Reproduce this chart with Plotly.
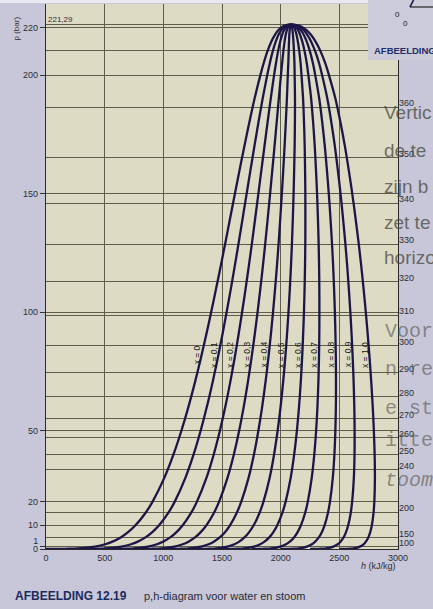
import numpy as np
import plotly.graph_objects as go

# Saturation data for water/steam: pressure (bar), enthalpy of saturated liquid
# and saturated vapour (kJ/kg), up to the critical point at 221,29 bar.
P_BAR = [0.00611, 0.01, 0.02, 0.05, 0.1, 0.2, 0.5, 1, 2, 3, 5, 7, 10, 15, 20,
         30, 40, 50, 60, 70, 80, 90, 100, 110, 120, 130, 140, 150, 160, 170,
         180, 190, 200, 205, 210, 214, 217, 219, 220.3, 221.0, 221.2, 221.29]
H_LIQ = [0.0, 29.3, 73.4, 137.7, 191.8, 251.4, 340.5, 417.4, 504.7, 561.4,
         640.1, 697.0, 762.5, 844.6, 908.5, 1008.3, 1087.4, 1154.5, 1213.9,
         1267.7, 1317.3, 1363.7, 1407.9, 1450.3, 1491.5, 1531.5, 1570.8,
         1610.2, 1650.0, 1690.7, 1732.8, 1777.2, 1827.1, 1855.0, 1887.0,
         1919.0, 1951.0, 1981.0, 2011.0, 2040.0, 2057.0, 2086.0]
H_VAP = [2501.0, 2513.7, 2532.9, 2560.7, 2583.9, 2608.9, 2645.2, 2674.9,
         2706.2, 2724.9, 2748.1, 2762.8, 2777.1, 2791.0, 2798.3, 2803.2,
         2800.8, 2794.2, 2784.6, 2772.6, 2758.7, 2742.9, 2725.5, 2706.3,
         2685.4, 2662.4, 2637.1, 2610.0, 2580.0, 2547.4, 2509.8, 2466.9,
         2411.4, 2380.0, 2340.0, 2299.0, 2258.0, 2220.0, 2182.0, 2145.0,
         2123.0, 2086.0]

# Steam quality lines
QUALITY = [0.0, 0.1, 0.2, 0.3, 0.4, 0.5, 0.6, 0.7, 0.8, 0.9, 1.0]
QUALITY_LABELS = ["x = 0", "x = 0,1", "x = 0,2", "x = 0,3", "x = 0,4", "x = 0,5",
                  "x = 0,6", "x = 0,7", "x = 0,8", "x = 0,9", "x = 1,0"]
LABEL_P = 82

# Axes
H_TICKS = [0, 500, 1000, 1500, 2000, 2500, 3000]
P_TICKS = [0, 10, 20, 50, 100, 150, 200, 220]
P_CRIT = 221.29
# Saturation temperatures (deg C) and matching saturation pressures (bar)
T_SAT = [100, 150, 200, 240, 250, 260, 270, 280, 290, 300, 310, 320, 330,
         340, 350, 360, 370]
P_SAT = [1.014, 4.76, 15.55, 33.47, 39.76, 46.92, 55.03, 64.17, 74.42, 85.88,
         98.65, 112.9, 128.6, 146.0, 165.2, 186.5, 210.3]

PAGE = "#c7c7d9"
PLOT_BG = "#dedbc4"
GRID = "#5e5d4c"
CURVE = "#1c1648"
TEXT = "#2e2e33"
FONT = "Liberation Sans"

# layout geometry (pixels) used to place page decorations
L, R, T, B = 46, 35, 4, 60
W, H = 433, 609
PW, PH = W - L - R, H - T - B


def px_x(px):
    return (px - L) / PW


def px_y(py):
    return (H - B - py) / PH


p_arr = np.array(P_BAR)
hf_arr = np.array(H_LIQ)
hg_arr = np.array(H_VAP)

fig = go.Figure()

for q in QUALITY:
    h_line = hf_arr + q * (hg_arr - hf_arr)
    fig.add_trace(go.Scatter(
        x=h_line, y=p_arr, mode="lines",
        line=dict(color=CURVE, width=2.3, shape="spline", smoothing=0.8),
        hoverinfo="skip", showlegend=False))

# carriers for the extra y axes
fig.add_trace(go.Scatter(x=[0], y=[0], yaxis="y2", mode="markers",
                         marker=dict(opacity=0), hoverinfo="skip", showlegend=False))
fig.add_trace(go.Scatter(x=[0], y=[0], yaxis="y3", mode="markers",
                         marker=dict(opacity=0), hoverinfo="skip", showlegend=False))

annotations = []

# quality labels along the curves
for q, lab in zip(QUALITY, QUALITY_LABELS):
    h_line = hf_arr + q * (hg_arr - hf_arr)
    h_lab = float(np.interp(LABEL_P, p_arr, h_line))
    annotations.append(dict(x=h_lab, y=LABEL_P, xref="x", yref="y", text=lab,
                            textangle=-90, showarrow=False, xshift=-5,
                            font=dict(family=FONT, size=8.5, color="#151515")))

# critical pressure
annotations.append(dict(x=0, y=P_CRIT, xref="x", yref="y", text="221,29",
                        xanchor="left", yanchor="bottom", showarrow=False,
                        xshift=0, yshift=-1,
                        font=dict(family=FONT, size=8, color=TEXT)))

# axis titles
annotations.append(dict(x=px_x(10), y=px_y(15), xref="paper", yref="paper",
                        text="p (bar)", textangle=-90, showarrow=False,
                        font=dict(family=FONT, size=8, color=TEXT)))
annotations.append(dict(x=1.0, y=px_y(566), xref="paper", yref="paper",
                        text="<i>h</i> (kJ/kg)", xanchor="right", yanchor="middle",
                        showarrow=False,
                        font=dict(family=FONT, size=9, color=TEXT)))

# caption
annotations.append(dict(x=px_x(13), y=px_y(596), xref="paper", yref="paper",
                        text="<b>AFBEELDING 12.19</b>", xanchor="left",
                        yanchor="middle", showarrow=False,
                        font=dict(family=FONT, size=12, color="#1d2a5c")))
annotations.append(dict(x=px_x(142), y=px_y(596), xref="paper", yref="paper",
                        text="p,h-diagram voor water en stoom", xanchor="left",
                        yanchor="middle", showarrow=False,
                        font=dict(family=FONT, size=11, color="#2a2a33")))

# text from the facing page showing through on the right
side_sans = [("Vertic", 112), ("de te", 150), ("zijn b", 186),
             ("zet te", 222), ("horizo", 257)]
for txt, yc in side_sans:
    annotations.append(dict(x=px_x(382), y=px_y(yc), xref="paper", yref="paper",
                            text=txt, xanchor="left", yanchor="middle",
                            showarrow=False,
                            font=dict(family=FONT, size=19,
                                      color="rgba(70,70,60,0.75)")))
side_mono = [("Voor", 331), ("n re", 370), ("e st", 408), ("itte", 440),
             ("<i>toom</i>", 480)]
for txt, yc in side_mono:
    annotations.append(dict(x=px_x(383), y=px_y(yc), xref="paper", yref="paper",
                            text=txt, xanchor="left", yanchor="middle",
                            showarrow=False,
                            font=dict(family="Liberation Mono", size=20,
                                      color="rgba(90,90,85,0.65)")))

# small inset of the neighbouring figure in the top-right corner
annotations.append(dict(x=px_x(372), y=px_y(51), xref="paper", yref="paper",
                        text="<b>AFBEELDING</b>", xanchor="left", yanchor="middle",
                        showarrow=False,
                        font=dict(family=FONT, size=9.5, color="#1f2d6b")))
annotations.append(dict(x=px_x(402), y=px_y(8), xref="paper", yref="paper",
                        text="0", showarrow=False,
                        font=dict(family=FONT, size=8, color="#222")))
annotations.append(dict(x=px_x(410), y=px_y(17), xref="paper", yref="paper",
                        text="0", showarrow=False,
                        font=dict(family=FONT, size=8, color="#222")))

shapes = [
    # thin light strip along the top edge of the page
    dict(type="rect", xref="paper", yref="paper", x0=-0.2, x1=1.2,
         y0=px_y(3), y1=px_y(-2), fillcolor="#e9e9f1", line_width=0,
         layer="above"),
    # inset box
    dict(type="rect", xref="paper", yref="paper", x0=px_x(368), x1=px_x(440),
         y0=px_y(60), y1=px_y(-2), fillcolor="#cbcbda", line_width=0,
         layer="above"),
    dict(type="line", xref="paper", yref="paper", x0=px_x(410), x1=px_x(440),
         y0=px_y(7), y1=px_y(7), line=dict(color="#222", width=1.2),
         layer="above"),
    dict(type="line", xref="paper", yref="paper", x0=px_x(410), x1=px_x(414),
         y0=px_y(7), y1=px_y(-1), line=dict(color="#1c1648", width=1.6),
         layer="above"),
]

axis_font = dict(family=FONT, size=9, color=TEXT)

fig.update_layout(
    width=W, height=H, autosize=False,
    margin=dict(l=L, r=R, t=T, b=B, pad=0),
    paper_bgcolor=PAGE, plot_bgcolor=PLOT_BG,
    showlegend=False,
    xaxis=dict(range=[0, 3000], tickvals=H_TICKS,
               ticktext=[str(v) for v in H_TICKS],
               showgrid=True, gridcolor=GRID, gridwidth=1,
               showline=True, linecolor="#2a2a2a", linewidth=1.3,
               ticks="", zeroline=False, tickfont=axis_font, fixedrange=True),
    yaxis=dict(range=[0, 230], tickvals=P_TICKS,
               ticktext=[str(v) for v in P_TICKS],
               ticks="outside", ticklen=5, tickcolor="#333", tickwidth=1,
               showgrid=True, gridcolor=GRID, gridwidth=1,
               showline=True, mirror=True, linecolor="#2a2a2a", linewidth=1.3,
               zeroline=False, tickfont=axis_font, fixedrange=True),
    yaxis2=dict(range=[0, 230], overlaying="y", side="right",
                tickvals=P_SAT + [P_CRIT],
                ticktext=[str(t) for t in T_SAT] + [""],
                ticks="", showgrid=True, gridcolor=GRID, gridwidth=1,
                showline=False, zeroline=False, ticklabelshift=-4,
                tickfont=axis_font, fixedrange=True),
    yaxis3=dict(range=[0, 230], overlaying="y", side="left",
                tickvals=[1], ticktext=["1"],
                ticks="outside", ticklen=5, tickcolor="#333",
                showgrid=True, gridcolor=GRID, gridwidth=1,
                showline=False, zeroline=False, ticklabelshift=-6,
                tickfont=axis_font, fixedrange=True),
    annotations=annotations,
    shapes=shapes,
)

fig.write_html("out.html")
